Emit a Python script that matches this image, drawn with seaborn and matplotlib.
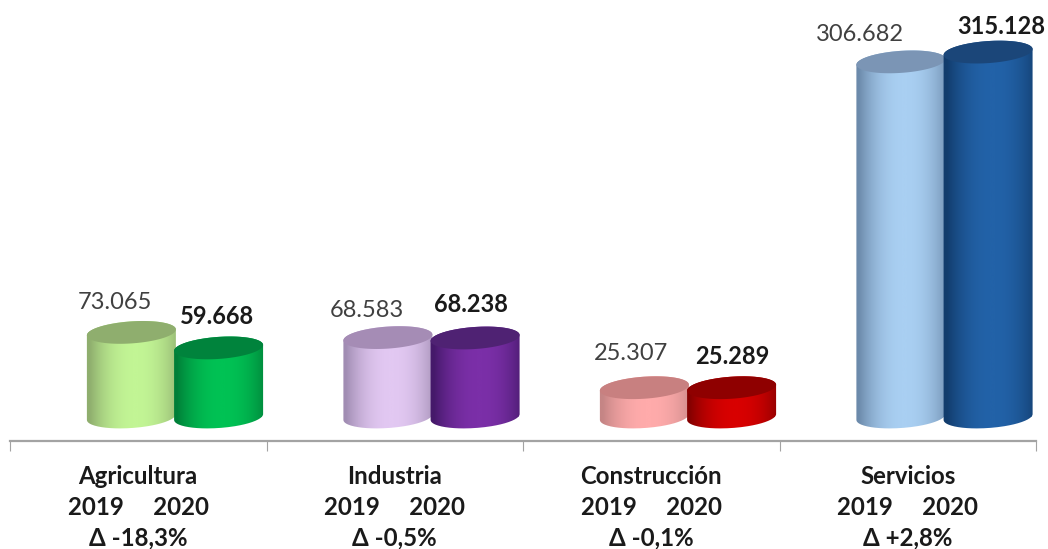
import numpy as np
import pandas as pd
import seaborn as sns
import matplotlib.pyplot as plt
from matplotlib.colors import LinearSegmentedColormap
from matplotlib.patches import PathPatch, Polygon
from matplotlib.path import Path

# Data
sectores = ['Agricultura', 'Industria', 'Construcción', 'Servicios']
valores_2019 = [73065, 68583, 25307, 306682]
valores_2020 = [59668, 68238, 25289, 315128]
deltas = ['Δ -18,3%', 'Δ -0,5%', 'Δ -0,1%', 'Δ +2,8%']

# centre, side and top-face colour of each cylinder
colores_2019 = [('#c2f595', '#8fae6e', '#8fae6e'), ('#e2c8f2', '#a18db3', '#a58cb5'),
                ('#ffabab', '#c58585', '#c88080'), ('#a9cff2', '#6c8aab', '#7b95b5')]
colores_2020 = [('#00c254', '#007f38', '#00833c'), ('#7b2fa8', '#45196a', '#4f2273'),
                ('#d80000', '#850000', '#8f0000'), ('#2262a8', '#123c6c', '#1b4679')]

# label offsets from the top of each bar, in pixels
offset_2019 = [(-16, 30), (-21, 27), (-13, 34), (-41, 27)]
offset_2020 = [(-2, 31), (-4, 33), (1, 31), (13, 26)]

W, H = 1048, 549
AXIS_Y = 441
BASE_Y = 417
PX_PER_UNIT = 0.001158
CAT_PX = 256.5

sns.set_style('white')
plt.rcParams['font.family'] = ['Lato', 'DejaVu Sans']

df = pd.DataFrame({
    'sector': sectores * 2,
    'valor': valores_2019 + valores_2020,
    'anio': ['2019'] * 4 + ['2020'] * 4,
})

fig = plt.figure(figsize=(W / 100, H / 100), dpi=100)
ax = fig.add_axes([10 / W, (H - AXIS_Y) / H, 1026 / W, AXIS_Y / H])
sns.barplot(data=df, x='sector', y='valor', hue='anio', width=0.68, gap=0, dodge=True,
            legend=False, ax=ax, edgecolor='none', saturation=1)

x_left = -(175 - 10) / CAT_PX
xlim = (x_left, x_left + 4)
ylim = (-(AXIS_Y - BASE_Y) / PX_PER_UNIT, BASE_Y / PX_PER_UNIT)


def ellipse_pts(cx, cy, a, b, theta, t):
    # tilted ellipse, everything in pixels with y going up
    x = cx + a * np.cos(t) * np.cos(theta) - b * np.sin(t) * np.sin(theta)
    y = cy + a * np.cos(t) * np.sin(theta) + b * np.sin(t) * np.cos(theta)
    return np.column_stack([x / CAT_PX, y / PX_PER_UNIT])


def cylinder(patch, mid, side, top, z):
    cx = (patch.get_x() + patch.get_width() / 2) * CAT_PX
    a = patch.get_width() * CAT_PX / 2 + 1
    b = 11.0
    theta = np.radians(4)
    h = patch.get_height() * PX_PER_UNIT
    t0 = np.arctan(-(b / a) * np.tan(theta))
    low = ellipse_pts(cx, 0, a, b, theta, np.linspace(t0 + np.pi, t0 + 2 * np.pi, 80))
    up = ellipse_pts(cx, h, a, b, theta, np.linspace(t0, t0 + np.pi, 80))
    body = Path(np.vstack([low, up, low[:1]]))
    clip = PathPatch(body, transform=ax.transData, facecolor='none', edgecolor='none')
    ax.add_patch(clip)
    patch.set_facecolor(mid)
    patch.set_clip_path(clip)
    patch.set_zorder(z)
    # shading across the width of the cylinder
    cmap = LinearSegmentedColormap.from_list('cyl', [mid, side])
    grad = np.abs(np.linspace(-1.08, 0.92, 256)) ** 2.2
    x0, x1 = (cx - a - 1) / CAT_PX, (cx + a + 1) / CAT_PX
    y0, y1 = -20 / PX_PER_UNIT, (h + 20) / PX_PER_UNIT
    im = ax.imshow(grad[None, :], cmap=cmap, vmin=0, vmax=1, aspect='auto',
                   extent=(x0, x1, y0, y1), zorder=z + 0.1)
    im.set_clip_path(clip)
    face = ellipse_pts(cx, h, a, b, theta, np.linspace(0, 2 * np.pi, 120))
    ax.add_patch(Polygon(face, closed=True, facecolor=top, edgecolor='none', zorder=z + 0.2))


z = 3
for i, (cont, colores) in enumerate(zip(ax.containers, [colores_2019, colores_2020])):
    for patch, (mid, side, top) in zip(cont.patches, colores):
        cylinder(patch, mid, side, top, z)
        z += 1

# Value labels
for cont, vals, offs, weight, col in zip(ax.containers, [valores_2019, valores_2020],
                                         [offset_2019, offset_2020], ['normal', 'bold'],
                                         ['#404040', '#1a1a1a']):
    for patch, v, (dx, dy) in zip(cont.patches, vals, offs):
        ax.annotate(f'{v:,}'.replace(',', '.'),
                    (patch.get_x() + patch.get_width() / 2, patch.get_height()),
                    xytext=(dx * 0.72, dy * 0.72), textcoords='offset points',
                    ha='center', va='center', fontsize=17, fontweight=weight, color=col,
                    zorder=50)

ax.set_xlim(xlim)
ax.set_ylim(ylim)
ax.set_xlabel('')
ax.set_ylabel('')
ax.set_yticks([])
sns.despine(ax=ax, left=True)
ax.spines['bottom'].set_color('#a3a3a3')
ax.spines['bottom'].set_linewidth(1.6)

# category labels sit in the middle of each interval, ticks on the interval edges
centros = [x_left + i + 0.5 for i in range(4)]
etiquetas = [f'{s}\n2019     2020\n{d}' for s, d in zip(sectores, deltas)]
ax.set_xticks(centros)
ax.set_xticklabels(etiquetas, fontsize=17.3, fontweight='bold', color='#1a1a1a',
                   linespacing=1.4)
ax.set_xticks([x_left + i for i in range(5)], minor=True)
ax.tick_params(axis='x', which='major', length=0, pad=17.5, bottom=False)
ax.tick_params(axis='x', which='minor', length=7.5, width=0.8, color='#a3a3a3', bottom=True)

fig.savefig('out.png', dpi=100)
